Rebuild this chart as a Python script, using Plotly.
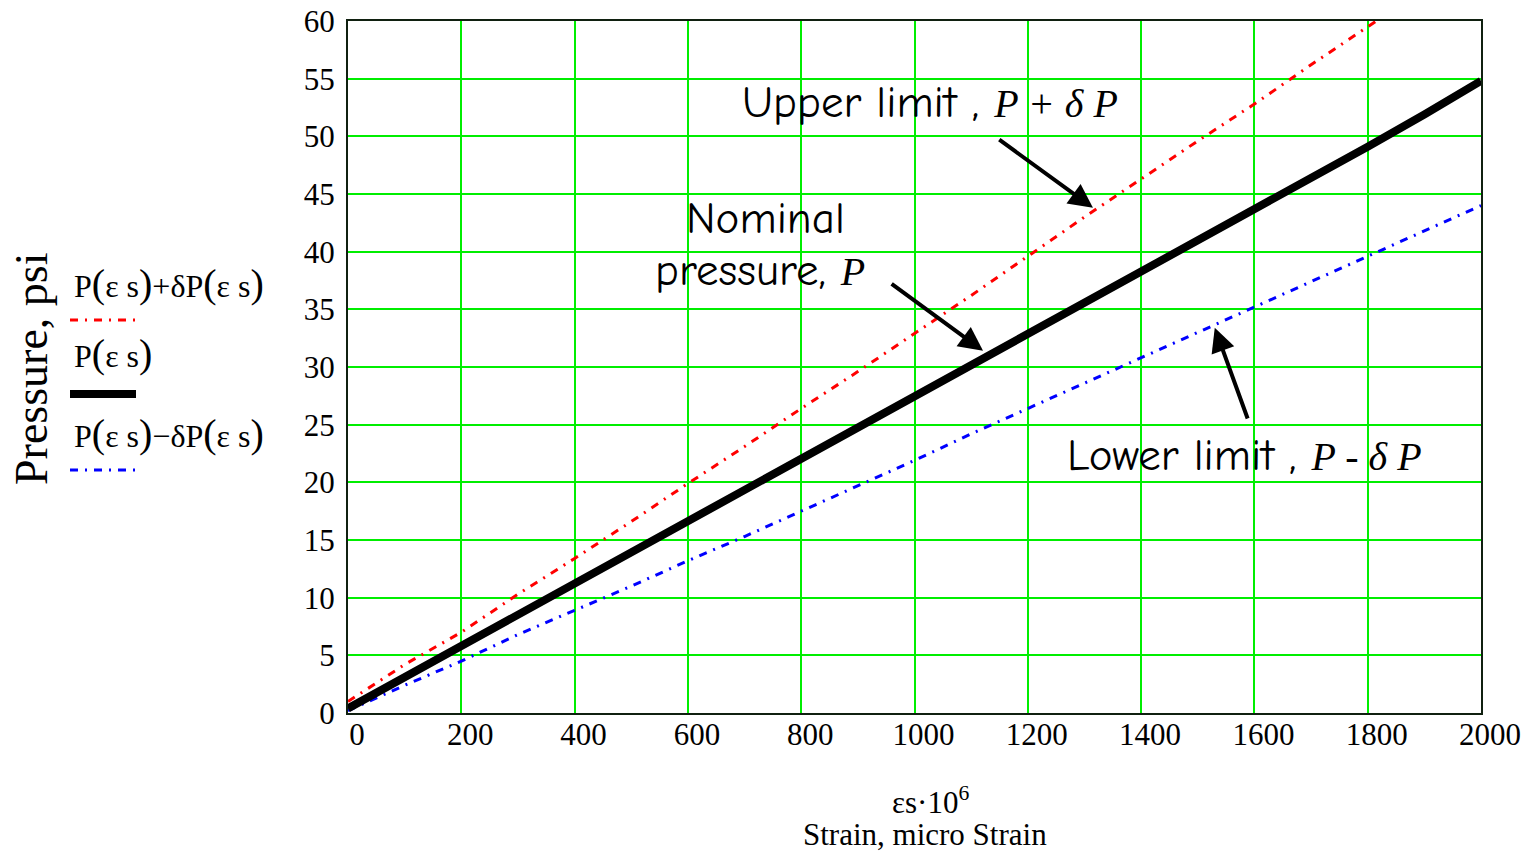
import plotly.graph_objects as go

# ---- data ----
strain = [0, 100, 200, 300, 400, 500, 600, 700, 800, 900, 1000,
          1100, 1200, 1300, 1400, 1500, 1600, 1700, 1800, 1900, 2000]
p_nominal = [0.4, 3.1, 5.8, 8.5, 11.2, 13.9, 16.6, 19.3, 22.0, 24.7, 27.4,
             30.1, 32.8, 35.5, 38.2, 40.9, 43.6, 46.3, 49.1, 51.9, 54.8]
p_upper = [1.0, 4.2, 7.0, 10.3, 13.4, 16.6, 19.9, 23.1, 26.4, 29.6, 32.9,
           36.2, 39.6, 43.0, 46.3, 49.6, 52.8, 56.2, 59.5, 62.8, 66.1]
p_lower = [0.2, 2.4, 4.5, 6.8, 8.9, 11.0, 13.2, 15.3, 17.5, 19.7, 21.9,
           24.2, 26.4, 28.6, 30.8, 33.0, 35.2, 37.4, 39.6, 41.8, 44.0]

x_ticks = [0, 200, 400, 600, 800, 1000, 1200, 1400, 1600, 1800, 2000]
y_ticks = [0, 5, 10, 15, 20, 25, 30, 35, 40, 45, 50, 55, 60]

W, H = 1533, 851
L, R, T, B = 348, 1481, 21, 713
PW, PH = R - L, B - T


def px(x):
    return (x - L) / PW


def py(y):
    return (B - y) / PH


SERIF = "Liberation Serif, Times New Roman, serif"
HAND = "Comic Sans MS, Comic Neue, Noto Sans, sans-serif"
DASH = "8px,7px,2px,7px"

fig = go.Figure()
fig.add_trace(go.Scatter(x=strain, y=p_upper, mode="lines",
                         line=dict(color="#ff0000", width=3, dash=DASH),
                         showlegend=False))
fig.add_trace(go.Scatter(x=strain, y=p_lower, mode="lines",
                         line=dict(color="#0000ff", width=3, dash=DASH),
                         showlegend=False))
fig.add_trace(go.Scatter(x=strain, y=p_nominal, mode="lines",
                         line=dict(color="#000000", width=8),
                         showlegend=False))

axis_common = dict(showgrid=True, gridcolor="#00ee00", gridwidth=2,
                   zeroline=False, showline=True, linecolor="#102010",
                   linewidth=2, mirror=True, ticks="",
                   automargin=False,
                   tickfont=dict(family=SERIF, size=31, color="#000"))

fig.update_xaxes(range=[0, 2000], tickvals=x_ticks, ticklabelshift=9,
                 ticklabelstandoff=-7, **axis_common)
fig.update_yaxes(range=[0, 60], tickvals=y_ticks, ticklabelstandoff=5,
                 **axis_common)

annotations = []
shapes = []

BIGP = '<span style="font-size:40px">%s</span>'
lp, rp = BIGP % "(", BIGP % ")"
legend_rows = [
    ("P" + lp + "ε s" + rp + "+δP" + lp + "ε s" + rp, 283, 320, "#ff0000", 3, DASH),
    ("P" + lp + "ε s" + rp, 353, 394, "#000000", 8, "solid"),
    ("P" + lp + "ε s" + rp + "−δP" + lp + "ε s" + rp, 433, 470, "#0000ff", 3, DASH),
]
for txt, ty, ly, col, w, dash in legend_rows:
    annotations.append(dict(xref="paper", yref="paper", x=px(72), y=py(ty),
                            xanchor="left", yanchor="middle", showarrow=False,
                            text=txt, font=dict(family=SERIF, size=32, color="#000")))
    shapes.append(dict(type="line", xref="paper", yref="paper",
                       x0=px(70), x1=px(136), y0=py(ly), y1=py(ly),
                       line=dict(color=col, width=w, dash=dash)))

# axis titles
annotations.append(dict(xref="paper", yref="paper", x=px(31), y=py(369),
                        xanchor="center", yanchor="middle", showarrow=False,
                        textangle=-90, text="Pressure, psi",
                        font=dict(family=SERIF, size=46, color="#000")))
annotations.append(dict(xref="paper", yref="paper", x=px(930), y=py(800),
                        xanchor="center", yanchor="middle", showarrow=False,
                        text="εs·10<sup>6</sup>",
                        font=dict(family=SERIF, size=31, color="#000")))
annotations.append(dict(xref="paper", yref="paper", x=px(925), y=py(834),
                        xanchor="center", yanchor="middle", showarrow=False,
                        text="Strain, micro Strain",
                        font=dict(family=SERIF, size=31, color="#000")))

ital = '<span style="font-family:Liberation Serif;font-size:40px"><i>%s</i></span>'

# callout texts
annotations.append(dict(xref="paper", yref="paper", x=px(740), y=py(102),
                        xanchor="left", yanchor="middle", showarrow=False,
                        text="Upper limit , " + ital % "P + δ P",
                        font=dict(family=HAND, size=45, color="#000")))
annotations.append(dict(xref="paper", yref="paper", x=px(765), y=py(218),
                        xanchor="center", yanchor="middle", showarrow=False,
                        text="Nominal",
                        font=dict(family=HAND, size=45, color="#000")))
annotations.append(dict(xref="paper", yref="paper", x=px(653), y=py(270),
                        xanchor="left", yanchor="middle", showarrow=False,
                        text="pressure, " + ital % "P",
                        font=dict(family=HAND, size=45, color="#000")))
annotations.append(dict(xref="paper", yref="paper", x=px(1065), y=py(455),
                        xanchor="left", yanchor="middle", showarrow=False,
                        text="Lower limit , " + ital % "P - δ P",
                        font=dict(family=HAND, size=45, color="#000")))

# arrows (head at x,y; tail at ax,ay, in data coordinates)
arrows = [
    (1315, 43.8, 1147, 49.8),
    (1121, 31.4, 957, 37.3),
    (1530, 33.4, 1589, 25.4),
]
for hx, hy, tx, ty in arrows:
    annotations.append(dict(x=hx, y=hy, ax=tx, ay=ty, xref="x", yref="y",
                            axref="x", ayref="y", text="", showarrow=True,
                            arrowhead=2, arrowsize=1.2, arrowwidth=4,
                            arrowcolor="#000"))

fig.update_layout(width=W, height=H, plot_bgcolor="#ffffff",
                  paper_bgcolor="#ffffff",
                  margin=dict(l=L, r=W - R, t=T, b=H - B, autoexpand=False),
                  annotations=annotations, shapes=shapes, showlegend=False)

fig.write_html("out.html", config={"displayModeBar": False},
               post_script="document.body.style.margin='0';"
                           "document.body.style.overflow='hidden';")
